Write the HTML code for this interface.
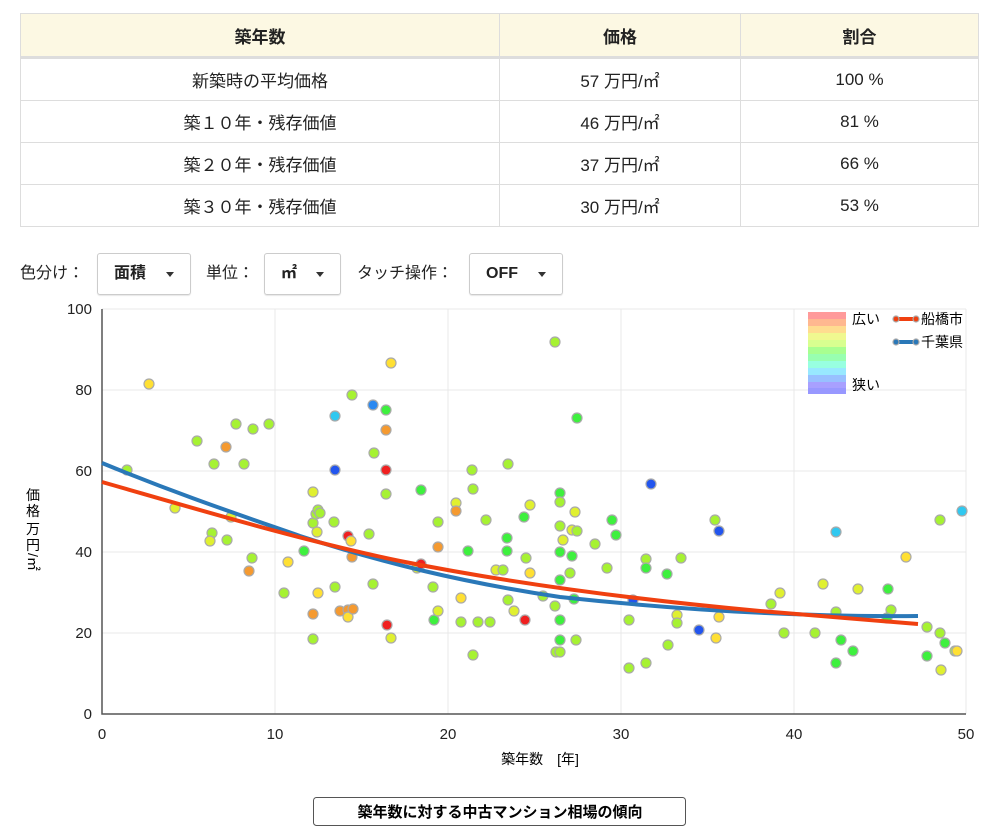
<!DOCTYPE html>
<html><head><meta charset="utf-8"><style>
body{margin:0;width:1000px;height:839px;background:#fff;font-family:"Liberation Sans","Noto Sans CJK JP",sans-serif;position:relative;overflow:hidden;color:#222}
table{position:absolute;left:20px;top:13px;width:959px;border-collapse:collapse;font-size:17px}
td,th{border:1px solid #ddd;text-align:center;height:41px;padding:0}
th{background:#fcf8e3;font-weight:bold;height:42px;border-bottom:3px solid #ddd}
.ctl{position:absolute;top:253px;height:42px;font-size:16px;line-height:42px}
.sel{position:absolute;top:253px;height:40px;border:1px solid #ccc;border-radius:3px;font-size:16px;font-weight:bold;line-height:40px;box-shadow:0 1px 1px rgba(0,0,0,.1)}
.sel span{position:absolute;left:16px}
.sel i{position:absolute;right:16px;top:18px;width:0;height:0;border-left:4px solid transparent;border-right:4px solid transparent;border-top:5px solid #333}
svg{position:absolute;left:0;top:0}
circle{stroke:#aaa;stroke-width:1.2}
.g{fill:#a6f232}.G{fill:#3ef03e}.y{fill:#e0f030}.Y{fill:#ffe033}.o{fill:#f59a30}.r{fill:#f02020}.b{fill:#2255ee}.c{fill:#30c8f0}.B{fill:#2a88f0}
</style></head><body>
<table>
<tr><th style="width:478px">築年数</th><th style="width:240px">価格</th><th>割合</th></tr>
<tr><td>新築時の平均価格</td><td>57 万円/㎡</td><td>100 %</td></tr>
<tr><td>築１０年・残存価値</td><td>46 万円/㎡</td><td>81 %</td></tr>
<tr><td>築２０年・残存価値</td><td>37 万円/㎡</td><td>66 %</td></tr>
<tr><td>築３０年・残存価値</td><td>30 万円/㎡</td><td>53 %</td></tr>
</table>
<div class="ctl" style="left:20px">色分け：</div>
<div class="sel" style="left:97px;width:92px"><span>面積</span><i></i></div>
<div class="ctl" style="left:206px">単位：</div>
<div class="sel" style="left:264px;width:75px"><span>㎡</span><i></i></div>
<div class="ctl" style="left:357px">タッチ操作：</div>
<div class="sel" style="left:469px;width:92px"><span>OFF</span><i></i></div>
<svg width="1000" height="839" font-family="Liberation Sans, Noto Sans CJK JP, sans-serif">
<g stroke="#e8e8e8" stroke-width="1">
<line x1="102" y1="309" x2="966" y2="309"/><line x1="102" y1="390" x2="966" y2="390"/><line x1="102" y1="471" x2="966" y2="471"/><line x1="102" y1="552" x2="966" y2="552"/><line x1="102" y1="633" x2="966" y2="633"/>
<line x1="275" y1="309" x2="275" y2="714"/><line x1="448" y1="309" x2="448" y2="714"/><line x1="621" y1="309" x2="621" y2="714"/><line x1="794" y1="309" x2="794" y2="714"/><line x1="966" y1="309" x2="966" y2="714"/>
</g>
<polyline points="102,309 102,714 966,714" fill="none" stroke="#555" stroke-width="1.5"/>
<g font-size="15" fill="#222" text-anchor="end">
<text x="92" y="314">100</text><text x="92" y="395">80</text><text x="92" y="476">60</text><text x="92" y="557">40</text><text x="92" y="638">20</text><text x="92" y="719">0</text></g>
<g font-size="15" fill="#222" text-anchor="middle">
<text x="102" y="739">0</text><text x="275" y="739">10</text><text x="448" y="739">20</text><text x="621" y="739">30</text><text x="794" y="739">40</text><text x="966" y="739">50</text></g>
<text x="540" y="764" font-size="14" text-anchor="middle">築年数　[年]</text>
<g font-size="14" text-anchor="middle"><text x="33" y="500">価</text><text x="33" y="516">格</text><text x="33" y="534">万</text><text x="33" y="550">円</text><text x="33" y="567" transform="rotate(90 33 562)">/㎡</text></g>
<g>
<circle class="g" cx="127" cy="470" r="5"/><circle class="Y" cx="149" cy="384" r="5"/><circle class="y" cx="175" cy="508" r="5"/><circle class="g" cx="197" cy="441" r="5"/><circle class="g" cx="214" cy="464" r="5"/><circle class="g" cx="212" cy="533" r="5"/><circle class="y" cx="210" cy="541" r="5"/><circle class="o" cx="226" cy="447" r="5"/><circle class="g" cx="227" cy="540" r="5"/><circle class="y" cx="231" cy="517" r="5"/><circle class="g" cx="236" cy="424" r="5"/><circle class="g" cx="244" cy="464" r="5"/><circle class="o" cx="249" cy="571" r="5"/><circle class="g" cx="252" cy="558" r="5"/><circle class="g" cx="253" cy="429" r="5"/><circle class="g" cx="269" cy="424" r="5"/><circle class="g" cx="284" cy="593" r="5"/><circle class="Y" cx="288" cy="562" r="5"/><circle class="G" cx="304" cy="551" r="5"/><circle class="y" cx="313" cy="492" r="5"/><circle class="g" cx="313" cy="523" r="5"/><circle class="g" cx="316" cy="514" r="5"/><circle class="g" cx="318" cy="510" r="5"/><circle class="y" cx="317" cy="532" r="5"/><circle class="o" cx="313" cy="614" r="5"/><circle class="g" cx="313" cy="639" r="5"/><circle class="Y" cx="318" cy="593" r="5"/><circle class="g" cx="320" cy="513" r="5"/><circle class="c" cx="335" cy="416" r="5"/><circle class="b" cx="335" cy="470" r="5"/><circle class="g" cx="334" cy="522" r="5"/><circle class="g" cx="335" cy="587" r="5"/><circle class="o" cx="340" cy="611" r="5"/><circle class="r" cx="348" cy="536" r="5"/><circle class="Y" cx="351" cy="541" r="5"/><circle class="o" cx="348" cy="610" r="5"/><circle class="Y" cx="348" cy="617" r="5"/><circle class="g" cx="352" cy="395" r="5"/><circle class="o" cx="352" cy="557" r="5"/><circle class="o" cx="353" cy="609" r="5"/><circle class="g" cx="369" cy="534" r="5"/><circle class="B" cx="373" cy="405" r="5"/><circle class="g" cx="374" cy="453" r="5"/><circle class="g" cx="373" cy="584" r="5"/><circle class="o" cx="386" cy="430" r="5"/><circle class="G" cx="386" cy="410" r="5"/><circle class="r" cx="386" cy="470" r="5"/><circle class="g" cx="386" cy="494" r="5"/><circle class="r" cx="387" cy="625" r="5"/><circle class="Y" cx="391" cy="363" r="5"/><circle class="y" cx="391" cy="638" r="5"/><circle class="y" cx="417" cy="568" r="5"/><circle class="G" cx="421" cy="490" r="5"/><circle class="r" cx="421" cy="564" r="5"/><circle class="g" cx="433" cy="587" r="5"/><circle class="G" cx="434" cy="620" r="5"/><circle class="o" cx="438" cy="547" r="5"/><circle class="g" cx="438" cy="522" r="5"/><circle class="y" cx="438" cy="611" r="5"/><circle class="y" cx="456" cy="503" r="5"/><circle class="o" cx="456" cy="511" r="5"/><circle class="Y" cx="461" cy="598" r="5"/><circle class="g" cx="461" cy="622" r="5"/><circle class="G" cx="468" cy="551" r="5"/><circle class="g" cx="472" cy="470" r="5"/><circle class="g" cx="473" cy="489" r="5"/><circle class="g" cx="473" cy="655" r="5"/><circle class="g" cx="478" cy="622" r="5"/><circle class="g" cx="486" cy="520" r="5"/><circle class="g" cx="490" cy="622" r="5"/><circle class="y" cx="496" cy="570" r="5"/><circle class="g" cx="503" cy="570" r="5"/><circle class="g" cx="508" cy="464" r="5"/><circle class="G" cx="507" cy="538" r="5"/><circle class="G" cx="507" cy="551" r="5"/><circle class="g" cx="508" cy="600" r="5"/><circle class="y" cx="514" cy="611" r="5"/><circle class="G" cx="524" cy="517" r="5"/><circle class="g" cx="526" cy="558" r="5"/><circle class="r" cx="525" cy="620" r="5"/><circle class="y" cx="530" cy="505" r="5"/><circle class="Y" cx="530" cy="573" r="5"/><circle class="g" cx="543" cy="596" r="5"/><circle class="g" cx="555" cy="342" r="5"/><circle class="g" cx="555" cy="606" r="5"/><circle class="g" cx="556" cy="652" r="5"/><circle class="g" cx="560" cy="652" r="5"/><circle class="G" cx="560" cy="493" r="5"/><circle class="g" cx="560" cy="502" r="5"/><circle class="g" cx="560" cy="526" r="5"/><circle class="G" cx="560" cy="552" r="5"/><circle class="G" cx="560" cy="580" r="5"/><circle class="G" cx="560" cy="620" r="5"/><circle class="G" cx="560" cy="640" r="5"/><circle class="y" cx="563" cy="540" r="5"/><circle class="g" cx="570" cy="573" r="5"/><circle class="y" cx="572" cy="530" r="5"/><circle class="G" cx="572" cy="556" r="5"/><circle class="y" cx="575" cy="512" r="5"/><circle class="G" cx="574" cy="599" r="5"/><circle class="G" cx="577" cy="418" r="5"/><circle class="g" cx="577" cy="531" r="5"/><circle class="g" cx="576" cy="640" r="5"/><circle class="g" cx="595" cy="544" r="5"/><circle class="g" cx="607" cy="568" r="5"/><circle class="G" cx="612" cy="520" r="5"/><circle class="G" cx="616" cy="535" r="5"/><circle class="g" cx="629" cy="620" r="5"/><circle class="g" cx="629" cy="668" r="5"/><circle class="b" cx="633" cy="600" r="5"/><circle class="g" cx="646" cy="559" r="5"/><circle class="G" cx="646" cy="568" r="5"/><circle class="g" cx="646" cy="663" r="5"/><circle class="b" cx="651" cy="484" r="5"/><circle class="G" cx="667" cy="574" r="5"/><circle class="g" cx="668" cy="645" r="5"/><circle class="y" cx="677" cy="615" r="5"/><circle class="g" cx="677" cy="623" r="5"/><circle class="g" cx="681" cy="558" r="5"/><circle class="b" cx="699" cy="630" r="5"/><circle class="g" cx="715" cy="520" r="5"/><circle class="Y" cx="716" cy="638" r="5"/><circle class="b" cx="719" cy="531" r="5"/><circle class="Y" cx="719" cy="617" r="5"/><circle class="g" cx="771" cy="604" r="5"/><circle class="y" cx="780" cy="593" r="5"/><circle class="g" cx="784" cy="633" r="5"/><circle class="g" cx="815" cy="633" r="5"/><circle class="y" cx="823" cy="584" r="5"/><circle class="c" cx="836" cy="532" r="5"/><circle class="g" cx="836" cy="612" r="5"/><circle class="G" cx="836" cy="663" r="5"/><circle class="G" cx="841" cy="640" r="5"/><circle class="G" cx="853" cy="651" r="5"/><circle class="y" cx="858" cy="589" r="5"/><circle class="G" cx="888" cy="589" r="5"/><circle class="g" cx="891" cy="610" r="5"/><circle class="G" cx="887" cy="618" r="5"/><circle class="Y" cx="906" cy="557" r="5"/><circle class="g" cx="927" cy="627" r="5"/><circle class="G" cx="927" cy="656" r="5"/><circle class="g" cx="940" cy="520" r="5"/><circle class="g" cx="940" cy="633" r="5"/><circle class="y" cx="941" cy="670" r="5"/><circle class="G" cx="945" cy="643" r="5"/><circle class="g" cx="955" cy="651" r="5"/><circle class="Y" cx="957" cy="651" r="5"/><circle class="c" cx="962" cy="511" r="5"/>
</g>
<path d="M102,463 C180,495 240,515 300,536 C380,562 460,582 560,597 C680,610 800,617 918,616" fill="none" stroke="#2a78b8" stroke-width="4"/>
<path d="M102,482 C200,510 300,540 400,561 C520,585 640,600 760,611 C840,618 880,621 918,624" fill="none" stroke="#f04010" stroke-width="4"/>
<g>
<rect x="808" y="312" width="38" height="7" fill="#ff9a9a"/><rect x="808" y="319" width="38" height="7" fill="#ffb890"/><rect x="808" y="326" width="38" height="7" fill="#ffdc90"/><rect x="808" y="333" width="38" height="7" fill="#f0f890"/><rect x="808" y="340" width="38" height="7" fill="#d8ff90"/><rect x="808" y="347" width="38" height="7" fill="#a8ff90"/><rect x="808" y="354" width="38" height="7" fill="#98ffb0"/><rect x="808" y="361" width="38" height="7" fill="#98ffe0"/><rect x="808" y="368" width="38" height="7" fill="#98e8ff"/><rect x="808" y="375" width="38" height="7" fill="#98c0ff"/><rect x="808" y="382" width="38" height="6" fill="#a8a0ff"/><rect x="808" y="388" width="38" height="6" fill="#9898ff"/>
</g>
<text x="852" y="324" font-size="14">広い</text><text x="852" y="390" font-size="14">狭い</text>
<line x1="896" y1="319" x2="916" y2="319" stroke="#f04010" stroke-width="4"/><circle cx="896" cy="319" r="3" fill="#f04010" stroke="none"/><circle cx="916" cy="319" r="3" fill="#f04010" stroke="none"/>
<text x="921" y="324" font-size="14">船橋市</text>
<line x1="896" y1="342" x2="916" y2="342" stroke="#2a78b8" stroke-width="4"/><circle cx="896" cy="342" r="3" fill="#2a78b8" stroke="none"/><circle cx="916" cy="342" r="3" fill="#2a78b8" stroke="none"/>
<text x="921" y="347" font-size="14">千葉県</text>
<rect x="313.5" y="797.5" width="372" height="28" rx="3" fill="#fff" stroke="#555"/>
<text x="500" y="817" font-size="15" font-weight="bold" text-anchor="middle">築年数に対する中古マンション相場の傾向</text>
</svg>
</body></html>
